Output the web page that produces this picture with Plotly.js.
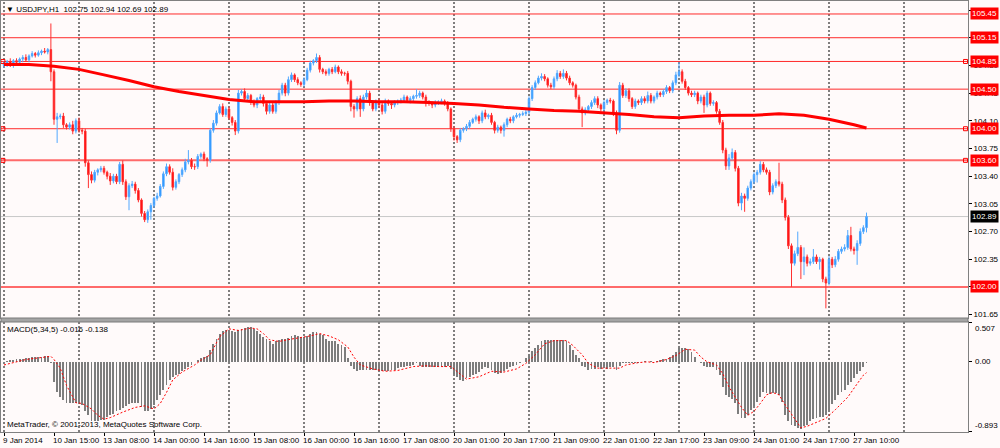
<!DOCTYPE html>
<html><head><meta charset="utf-8">
<script src="https://cdn.plot.ly/plotly-3.0.1.min.js"></script>
<style>html,body{margin:0;padding:0;background:#fffafa;}#chart{width:1000px;height:448px;}</style>
</head><body><div id="chart"></div>
<script>
// ---- data ----
const symbol = "USDJPY,H1";
const firstOpen = 104.80;
const closes = [
104.82,104.85,104.80,104.86,104.84,104.88,104.90,104.87,104.92,104.95,104.93,104.96,104.98,104.97,105.00,104.72,
104.12,104.15,104.16,104.05,104.02,104.05,103.97,104.10,103.98,103.97,103.57,103.42,103.35,103.45,103.48,103.50,
103.45,103.40,103.34,103.40,103.33,103.55,103.33,103.14,103.28,103.30,103.22,103.10,102.93,102.85,102.95,103.03,
103.12,103.15,103.27,103.43,103.52,103.45,103.26,103.33,103.42,103.48,103.58,103.60,103.52,103.52,103.65,103.68,
103.62,103.60,103.98,104.07,104.20,104.28,104.18,104.25,104.14,104.08,103.97,104.45,104.47,104.38,104.42,104.34,
104.30,104.38,104.40,104.32,104.22,104.30,104.22,104.33,104.45,104.55,104.45,104.62,104.68,104.62,104.58,104.56,
104.62,104.74,104.83,104.86,104.90,104.75,104.72,104.70,104.75,104.72,104.78,104.72,104.70,104.70,104.60,104.28,
104.25,104.38,104.25,104.40,104.45,104.33,104.25,104.35,104.30,104.22,104.35,104.32,104.30,104.33,104.35,104.36,
104.40,104.36,104.38,104.41,104.42,104.45,104.40,104.33,104.32,104.30,104.33,104.34,104.35,104.33,104.25,104.00,
103.90,103.86,103.98,104.00,104.03,104.08,104.12,104.15,104.10,104.20,104.15,104.17,104.08,103.98,104.02,103.98,
104.05,104.12,104.10,104.15,104.17,104.18,104.19,104.21,104.38,104.52,104.58,104.64,104.66,104.63,104.55,104.53,
104.63,104.70,104.66,104.70,104.64,104.58,104.55,104.40,104.25,104.20,104.24,104.28,104.33,104.38,104.30,104.25,
104.33,104.36,104.35,104.20,103.98,104.55,104.42,104.48,104.38,104.28,104.35,104.33,104.38,104.35,104.42,104.35,
104.40,104.45,104.43,104.47,104.52,104.48,104.58,104.68,104.72,104.60,104.52,104.45,104.43,104.45,104.35,104.40,
104.30,104.45,104.32,104.33,104.22,104.08,103.73,103.53,103.63,103.70,103.50,103.06,103.15,103.12,103.25,103.33,
103.42,103.45,103.55,103.48,103.45,103.20,103.28,103.33,103.30,103.10,102.88,102.52,102.30,102.42,102.50,102.32,
102.38,102.30,102.32,102.38,102.32,102.35,102.10,102.05,102.35,102.28,102.35,102.45,102.48,102.50,102.65,102.48,
102.46,102.55,102.70,102.75,102.89];
const wickHi = [
.03,.02,.04,.02,.03,.02,.03,.04,.02,.03,.02,.03,.02,.04,.02,.33,
.03,.05,.03,.04,.02,.03,.05,.03,.04,.03,.03,.03,.04,.03,.02,.03,
.03,.02,.04,.03,.03,.03,.05,.03,.03,.04,.03,.03,.02,.03,.03,.03,
.02,.04,.03,.03,.04,.03,.05,.03,.02,.03,.04,.13,.03,.04,.03,.02,
.03,.02,.03,.04,.03,.03,.04,.03,.03,.02,.03,.04,.03,.04,.03,.02,
.03,.02,.04,.03,.02,.03,.03,.03,.04,.03,.03,.04,.03,.02,.03,.02,
.03,.03,.03,.02,.05,.03,.02,.03,.02,.03,.03,.02,.03,.02,.03,.02,
.03,.03,.04,.03,.04,.03,.03,.02,.03,.03,.03,.02,.03,.03,.02,.03,
.03,.02,.03,.02,.08,.03,.02,.03,.03,.02,.03,.02,.03,.02,.02,.02,
.03,.02,.03,.02,.03,.03,.02,.03,.02,.03,.04,.02,.03,.02,.03,.02,
.03,.02,.03,.02,.03,.02,.03,.03,.03,.03,.03,.03,.04,.03,.02,.03,
.03,.04,.03,.05,.03,.03,.02,.02,.03,.03,.03,.02,.03,.03,.03,.02,
.03,.02,.03,.02,.03,.04,.03,.03,.03,.02,.03,.02,.03,.03,.05,.03,
.02,.03,.02,.03,.03,.02,.03,.04,.12,.03,.03,.02,.03,.03,.02,.03,
.03,.03,.02,.03,.02,.03,.03,.03,.05,.05,.03,.03,.04,.03,.03,.03,
.03,.03,.04,.03,.03,.03,.03,.03,.24,.03,.03,.03,.03,.04,.20,.03,
.12,.03,.04,.10,.03,.03,.02,.03,.04,.03,.04,.03,.03,.04,.07,.11,
.03,.04,.04,.03,.05];
const wickLo = [
.03,.04,.02,.03,.02,.03,.04,.02,.03,.02,.03,.02,.03,.02,.03,.12,
.07,.30,.03,.04,.03,.03,.04,.03,.03,.04,.05,.17,.04,.03,.04,.03,
.03,.04,.05,.03,.03,.03,.04,.04,.17,.03,.04,.03,.04,.03,.04,.10,
.03,.03,.02,.03,.03,.03,.04,.03,.03,.03,.03,.03,.03,.04,.03,.03,
.03,.08,.03,.03,.03,.02,.03,.03,.03,.04,.05,.03,.03,.04,.03,.04,
.03,.04,.03,.04,.04,.03,.03,.03,.03,.03,.04,.03,.03,.03,.03,.03,
.03,.02,.03,.03,.03,.04,.03,.03,.03,.03,.02,.03,.03,.03,.04,.06,
.11,.03,.10,.03,.03,.04,.03,.03,.04,.04,.03,.03,.05,.03,.03,.03,
.03,.03,.04,.03,.03,.03,.03,.05,.03,.04,.03,.03,.03,.04,.03,.04,
.05,.04,.03,.03,.03,.03,.02,.03,.04,.03,.03,.03,.03,.04,.03,.04,
.08,.03,.03,.03,.02,.03,.02,.03,.03,.03,.03,.02,.03,.03,.03,.03,
.03,.03,.03,.03,.03,.03,.03,.03,.04,.18,.03,.03,.03,.03,.04,.03,
.03,.03,.03,.04,.05,.03,.03,.03,.04,.03,.03,.03,.03,.03,.03,.03,
.03,.03,.03,.03,.03,.03,.03,.03,.03,.03,.03,.03,.03,.03,.04,.03,
.10,.03,.03,.03,.03,.03,.04,.05,.05,.03,.04,.04,.09,.17,.03,.03,
.03,.10,.03,.03,.03,.04,.03,.03,.03,.04,.04,.04,.30,.03,.03,.22,
.17,.04,.03,.03,.03,.10,.04,.32,.03,.04,.03,.03,.03,.03,.03,.03,
.05,.18,.03,.03,.06];
const maIdx = [0,8,16,24,32,40,48,56,64,72,80,88,96,104,112,120,128,136,144,152,160,168,176,184,192,200,208,216,224,232,240,248,256,264,272,276];
const maVal = [104.81,104.81,104.79,104.75,104.68,104.61,104.53,104.47,104.42,104.37,104.34,104.34,104.34,104.35,104.35,104.34,104.34,104.33,104.32,104.30,104.27,104.25,104.23,104.22,104.20,104.18,104.15,104.14,104.16,104.17,104.17,104.19,104.17,104.12,104.05,104.01];
const macd = [
0.00,0.01,0.02,0.02,0.03,0.03,0.04,0.05,0.05,0.06,0.06,0.06,0.06,0.07,0.08,-0.02,
-0.26,-0.39,-0.45,-0.49,-0.52,-0.53,-0.53,-0.52,-0.52,-0.55,-0.62,-0.68,-0.75,-0.75,-0.75,-0.74,
-0.74,-0.70,-0.68,-0.66,-0.63,-0.61,-0.59,-0.56,-0.54,-0.52,-0.52,-0.53,-0.57,-0.62,-0.62,-0.60,
-0.55,-0.49,-0.42,-0.36,-0.29,-0.23,-0.19,-0.17,-0.15,-0.12,-0.09,-0.06,-0.04,0.00,0.02,0.05,
0.06,0.07,0.15,0.23,0.29,0.36,0.39,0.41,0.41,0.39,0.38,0.41,0.42,0.43,0.44,0.44,
0.42,0.39,0.35,0.32,0.29,0.26,0.23,0.27,0.28,0.29,0.29,0.30,0.33,0.34,0.33,0.32,
0.31,0.33,0.36,0.38,0.38,0.36,0.34,0.29,0.27,0.27,0.26,0.23,0.22,0.19,0.05,-0.05,
-0.09,-0.12,-0.10,-0.10,-0.10,-0.11,-0.11,-0.11,-0.115,-0.115,-0.12,-0.115,-0.11,-0.11,-0.08,-0.07,
-0.06,-0.05,-0.05,-0.04,-0.02,-0.05,-0.06,-0.06,-0.06,-0.06,-0.06,-0.06,-0.06,-0.06,-0.05,-0.09,
-0.15,-0.19,-0.23,-0.25,-0.21,-0.19,-0.17,-0.16,-0.13,-0.09,-0.07,-0.08,-0.10,-0.14,-0.15,-0.14,
-0.12,-0.09,-0.07,-0.05,-0.04,-0.02,0.00,0.05,0.09,0.14,0.17,0.22,0.27,0.28,0.28,0.28,
0.28,0.28,0.28,0.28,0.26,0.21,0.15,0.09,0.05,-0.05,-0.07,-0.11,-0.09,-0.09,-0.07,-0.09,
-0.07,-0.09,-0.07,-0.06,-0.11,-0.05,-0.02,-0.01,-0.01,-0.01,-0.01,-0.01,0.00,0.01,0.00,0.01,
0.00,0.01,0.02,0.04,0.04,0.06,0.09,0.13,0.17,0.18,0.17,0.16,0.13,0.06,0.00,-0.02,
-0.05,-0.06,-0.06,-0.06,-0.11,-0.17,-0.32,-0.42,-0.45,-0.47,-0.53,-0.66,-0.71,-0.72,-0.68,-0.61,
-0.56,-0.51,-0.45,-0.39,-0.40,-0.41,-0.40,-0.40,-0.42,-0.51,-0.68,-0.75,-0.81,-0.82,-0.84,-0.85,
-0.82,-0.80,-0.75,-0.73,-0.72,-0.70,-0.70,-0.68,-0.61,-0.54,-0.49,-0.42,-0.39,-0.36,-0.29,-0.26,
-0.20,-0.16,-0.12,-0.06,-0.016];
const sigIdx = [0,3,7,11,15,16,18,20,22,23,25,28,30,32,34,36,38,42,45,48,50,52,54,57,61,63,66,69,72,75,79,81,83,85,88,92,95,98,101,104,107,110,112,114,118,122,126,131,135,139,143,146,148,152,156,160,164,167,170,173,176,180,182,185,187,190,194,197,199,203,206,208,212,215,218,221,223,225,228,230,232,234,236,238,240,242,244,246,248,250,253,255,257,260,263,266,270,273,275,276];
const sigVal = [-0.04,-0.01,0.03,0.05,0.07,0.03,-0.08,-0.30,-0.45,-0.52,-0.53,-0.60,-0.68,-0.73,-0.71,-0.67,-0.64,-0.58,-0.56,-0.60,-0.53,-0.39,-0.23,-0.13,-0.04,0.02,0.09,0.32,0.42,0.40,0.43,0.42,0.36,0.28,0.26,0.29,0.31,0.33,0.36,0.33,0.28,0.19,0.06,-0.04,-0.09,-0.12,-0.11,-0.06,-0.05,-0.06,-0.06,-0.15,-0.22,-0.19,-0.12,-0.13,-0.09,-0.02,0.09,0.23,0.27,0.27,0.21,0.09,-0.02,-0.08,-0.08,-0.08,-0.04,-0.01,0.00,-0.01,0.03,0.08,0.16,0.15,0.06,0.00,-0.04,-0.15,-0.32,-0.45,-0.58,-0.68,-0.63,-0.53,-0.42,-0.39,-0.42,-0.55,-0.72,-0.84,-0.82,-0.77,-0.72,-0.61,-0.45,-0.28,-0.17,-0.138];
const levels = [105.45, 105.15, 104.85, 104.50, 104.00, 103.60, 102.00];
const heavyLevels = [103.60, 102.00];
const handleLevels = [104.85, 104.00, 103.60];
const priceTicks = [105.50, 105.15, 104.80, 104.45, 104.10, 103.75, 103.40, 103.05, 102.70, 102.35, 102.00, 101.65];
const macdTicks = [0.507, 0.00, -0.893];
const macdTickText = ["0.507", "0.00", "-0.893"];
const gridIdx = [0,24,48,72,96,120,144,168,192,216,240,264,288];
const labelIdx = [0,16,32,48,64,80,96,112,128,144,160,176,192,208,224,240,256,272];
const labelText = ["9 Jan 2014","10 Jan 15:00","13 Jan 08:00","14 Jan 00:00","14 Jan 16:00","15 Jan 08:00","16 Jan 00:00","16 Jan 16:00","17 Jan 08:00","20 Jan 01:00","20 Jan 17:00","21 Jan 09:00","22 Jan 01:00","22 Jan 17:00","23 Jan 09:00","24 Jan 01:00","24 Jan 17:00","27 Jan 10:00"];
const macdName = "MACD(5,34,5)";
const copyright = "MetaTrader, \u00a9 2001-2013, MetaQuotes Software Corp.";

// ---- derived ----
const N = closes.length;
const idx = closes.map((_, i) => i);
const opens = closes.map((c, i) => i === 0 ? firstOpen : closes[i - 1]);
const highs = closes.map((c, i) => Math.max(opens[i], c) + wickHi[i]);
const lows = closes.map((c, i) => Math.min(opens[i], c) - wickLo[i]);
const last = N - 1;
const bid = closes[last];

const xRange = [-0.96, 308.48];
const priceRange = [101.608, 105.614];
const macdRange = [-0.893, 0.507];
const FONT = 'Liberation Sans, Arial, sans-serif';
const BG = '#fffafa';

const traces = [
  {type:'candlestick', x:idx, open:opens, high:highs, low:lows, close:closes,
   xaxis:'x', yaxis:'y', whiskerwidth:0, hoverinfo:'skip',
   increasing:{line:{color:'#52a8ff', width:1}, fillcolor:'#1e90ff'},
   decreasing:{line:{color:'#ff3030', width:1}, fillcolor:'#ff0000'}},
  {type:'scatter', mode:'lines', x:maIdx, y:maVal, xaxis:'x', yaxis:'y',
   line:{color:'#ff0000', width:3}, hoverinfo:'skip'},
  {type:'scatter', mode:'markers',
   x:handleLevels.flatMap(() => [xRange[0] + 0.6, xRange[1] - 0.8]),
   y:handleLevels.flatMap(v => [v, v]), xaxis:'x', yaxis:'y',
   marker:{symbol:'square-open', size:4, color:'#ff0000', line:{width:1, color:'#ff0000'}}, hoverinfo:'skip'},
  {type:'bar', x:idx, y:macd, xaxis:'x2', yaxis:'y2', width:0.62,
   marker:{color:'#7d7d7d', line:{width:0}}, hoverinfo:'skip'},
  {type:'scatter', mode:'lines', x:sigIdx, y:sigVal, xaxis:'x2', yaxis:'y2',
   line:{color:'#ff0000', width:1, dash:'2px,2px'}, hoverinfo:'skip'}
];

const shapes = [];
gridIdx.forEach(g => shapes.push({type:'line', xref:'x', yref:'paper', x0:g, x1:g, y0:0, y1:1,
  line:{color:'#000000', width:1, dash:'2px,2px'}, layer:'below'}));
levels.forEach(v => {
  const heavy = heavyLevels.includes(v);
  shapes.push({type:'line', xref:'paper', yref:'y', x0:0, x1:1, y0:v, y1:v,
    line:{color: heavy ? '#ff6a6a' : '#ff2a2a', width: heavy ? 2 : 1}, layer:'below'});
});
shapes.push({type:'line', xref:'paper', yref:'y', x0:0, x1:1, y0:bid, y1:bid,
  line:{color:'#c8c8c8', width:1}, layer:'below'});
// panel separator
shapes.push({type:'rect', xref:'paper', yref:'paper', x0:0, x1:1, y0:0.2552, y1:0.2645,
  fillcolor:'#a4a4a4', line:{color:'#7a7a7a', width:1}, layer:'above'});

const annotations = [];
const txt = (o) => Object.assign({showarrow:false, font:{family:FONT, size:8, color:'#000'}}, o);
annotations.push(txt({xref:'paper', yref:'paper', x:0, y:1, xanchor:'left', yanchor:'top', xshift:3, yshift:-2,
  text:'\u25BC ' + symbol + '  ' + [opens[last], highs[last], lows[last], closes[last]].map(v => v.toFixed(2)).join(' ')}));
annotations.push(txt({xref:'paper', yref:'paper', x:0, y:0.2552, xanchor:'left', yanchor:'top', xshift:4, yshift:-1,
  text: macdName + ' ' + macd[last].toFixed(3) + ' ' + sigVal[sigVal.length - 1].toFixed(3)}));
annotations.push(txt({xref:'paper', yref:'paper', x:0, y:0, xanchor:'left', yanchor:'bottom', xshift:4, yshift:1,
  text: copyright}));
labelIdx.forEach((g, k) => annotations.push(txt({xref:'x2', yref:'paper', x:g, y:0, xanchor:'left', yanchor:'top',
  xshift:-3, yshift:-2, text:labelText[k]})));
macdTicks.forEach((v, k) => annotations.push(txt({xref:'paper', yref:'y2', x:1, y:v, xanchor:'left',
  yanchor: k === 0 ? 'top' : (k === 2 ? 'bottom' : 'middle'), xshift:5, text:macdTickText[k]})));
levels.forEach(v => annotations.push(txt({xref:'paper', yref:'y', x:1, y:v, xanchor:'left', yanchor:'middle',
  xshift:2, text:v.toFixed(2), bgcolor:'#ff0000', borderpad:1, font:{family:FONT, size:8, color:'#ffffff'}})));
annotations.push(txt({xref:'paper', yref:'y', x:1, y:bid, xanchor:'left', yanchor:'middle',
  xshift:2, text:bid.toFixed(2), bgcolor:'#000000', borderpad:1, font:{family:FONT, size:8, color:'#ffffff'}}));

const axisLine = {showline:true, mirror:true, linecolor:'#808080', linewidth:1, zeroline:false, showgrid:false};
const layout = {
  width:1000, height:448,
  margin:{l:1, r:32, t:1, b:16, pad:0},
  paper_bgcolor:BG, plot_bgcolor:BG, showlegend:false,
  font:{family:FONT, size:8, color:'#000'},
  xaxis:Object.assign({domain:[0,1], range:xRange, anchor:'y', showticklabels:false, ticks:'',
    rangeslider:{visible:false}, fixedrange:true}, axisLine),
  xaxis2:Object.assign({domain:[0,1], range:xRange, anchor:'y2', showticklabels:false,
    ticks:'outside', ticklen:3, tickcolor:'#000', tickvals:labelIdx, fixedrange:true}, axisLine),
  yaxis:Object.assign({domain:[0.2645,1], range:priceRange, anchor:'x', side:'right',
    tickvals:priceTicks, ticktext:priceTicks.map(v => v.toFixed(2)), ticks:'outside', ticklen:3,
    tickcolor:'#000', tickfont:{family:FONT, size:8, color:'#000'}, fixedrange:true}, axisLine),
  yaxis2:Object.assign({domain:[0,0.2552], range:macdRange, anchor:'x2', side:'right',
    tickvals:macdTicks, showticklabels:false, ticks:'outside', ticklen:3, tickcolor:'#000', fixedrange:true}, axisLine),
  bargap:0,
  shapes:shapes, annotations:annotations
};
Plotly.newPlot('chart', traces, layout, {displayModeBar:false, staticPlot:true});
</script></body></html>
